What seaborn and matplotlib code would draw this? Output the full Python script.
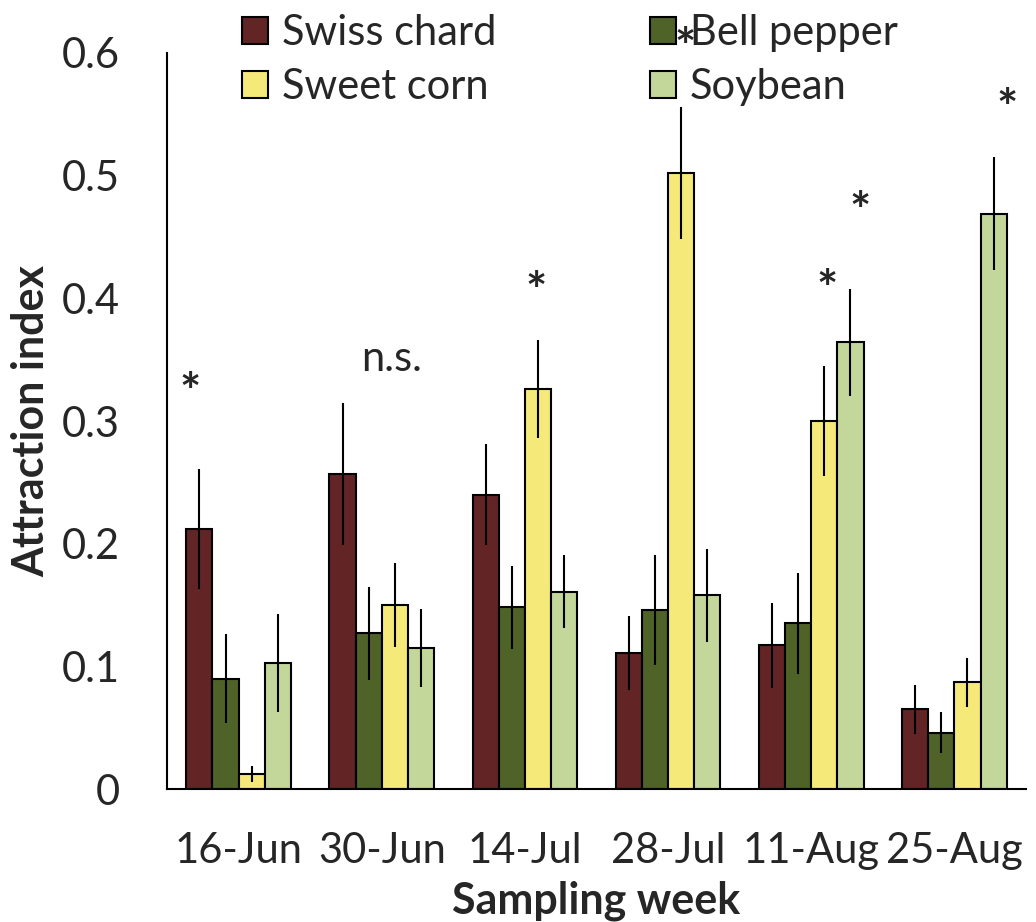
import numpy as np
import pandas as pd
import matplotlib
matplotlib.use("Agg")
import matplotlib.pyplot as plt
import seaborn as sns

# Veriler
weeks = ["16-Jun", "30-Jun", "14-Jul", "28-Jul", "11-Aug", "25-Aug"]
crops = ["Swiss chard", "Bell pepper", "Sweet corn", "Soybean"]
swiss_chard = [0.212, 0.257, 0.240, 0.111, 0.117, 0.065]
bell_pepper = [0.090, 0.127, 0.148, 0.146, 0.135, 0.046]
sweet_corn = [0.012, 0.150, 0.326, 0.502, 0.300, 0.087]
soybean = [0.103, 0.115, 0.161, 0.158, 0.364, 0.469]
swiss_err = [0.049, 0.058, 0.041, 0.030, 0.035, 0.020]
bell_err = [0.036, 0.038, 0.034, 0.045, 0.041, 0.017]
sweet_err = [0.0065, 0.034, 0.040, 0.054, 0.045, 0.020]
soy_err = [0.040, 0.032, 0.030, 0.038, 0.044, 0.046]
colors = ["#632426", "#4f6228", "#f5e97a", "#c4d79b"]

# Anlamlılık işaretleri (x: hafta konumu, y: taban çizgisi)
sig_labels = ["*", "n.s.", "*", "*", "*", "*", "*"]
sig_x = [-0.34, 1.07, 2.08, 3.12, 4.11, 4.34, 5.37]
sig_y = [0.310, 0.341, 0.392, 0.591, 0.394, 0.457, 0.541]

values = [swiss_chard, bell_pepper, sweet_corn, soybean]
errors = [swiss_err, bell_err, sweet_err, soy_err]
df = pd.DataFrame({
    "week": weeks * len(crops),
    "crop": np.repeat(crops, len(weeks)),
    "value": np.concatenate(values),
})

sns.set_style("white")
plt.rcParams["font.family"] = ["Lato", "DejaVu Sans"]

fig = plt.figure(figsize=(10.36, 9.22), dpi=100)
ax = fig.add_axes([167 / 1036, 1 - 789 / 922, 859 / 1036, 736 / 922])

sns.barplot(data=df, x="week", y="value", hue="crop", order=weeks,
            hue_order=crops, palette=colors, saturation=1, width=0.73,
            gap=0, edgecolor="black", linewidth=1.5, errorbar=None, ax=ax)

# Hata çubukları
for cont, err in zip(ax.containers, errors):
    xs = [b.get_x() + b.get_width() / 2 for b in cont]
    ys = [b.get_height() for b in cont]
    ax.errorbar(xs, ys, yerr=err, fmt="none", ecolor="black",
                elinewidth=1.5, capsize=0, zorder=5)

for lab, x, y in zip(sig_labels, sig_x, sig_y):
    if lab == "*":
        ax.text(x, y, lab, ha="center", va="baseline", fontsize=36,
                fontweight="bold", clip_on=False, zorder=6)
    else:
        ax.text(x, y, lab, ha="center", va="baseline", fontsize=30,
                clip_on=False, zorder=6)

ax.set_ylim(0, 0.6)
ax.set_xlim(-0.5, 5.5)
ax.set_yticks(np.arange(0, 0.61, 0.1))
ax.set_yticklabels(["0", "0.1", "0.2", "0.3", "0.4", "0.5", "0.6"])
ax.set_xticks(np.arange(-0.5, 5.6, 1))
ax.set_xticklabels([])
ax.set_xticks(range(len(weeks)), minor=True)
ax.set_xticklabels(weeks, minor=True)
ax.tick_params(axis="x", which="major", length=10, width=1.5,
               direction="out", color="black")
ax.tick_params(axis="x", which="minor", length=0, pad=31, labelsize=30)
ax.tick_params(axis="y", length=10, width=1.5, direction="out",
               color="black", pad=24, labelsize=30)
for s in ["top", "right"]:
    ax.spines[s].set_visible(False)
for s in ["left", "bottom"]:
    ax.spines[s].set_color("black")
    ax.spines[s].set_linewidth(1.5)
ax.set_xlabel("")
ax.set_ylabel("")

fig.text(596.5 / 1036, 1 - 913 / 922, "Sampling week", ha="center",
         va="baseline", fontsize=31, fontweight="bold")
fig.text(31 / 1036, 1 - 421 / 922, "Attraction index", ha="center",
         va="center", rotation=90, fontsize=31, fontweight="bold")

# Lejant: sütun sırası Swiss/Sweet, Bell/Soy
handles, labels = ax.get_legend_handles_labels()
order = [0, 2, 1, 3]
ax.get_legend().remove()
fig.legend([handles[i] for i in order], [labels[i] for i in order],
           loc="upper left", bbox_to_anchor=(242 / 1036, 1 - 14 / 922),
           ncol=2, frameon=False, fontsize=30, borderpad=0,
           borderaxespad=0, handlelength=0.62, handleheight=0.62,
           handletextpad=0.33, columnspacing=3.7, labelspacing=0.39)

plt.savefig("out.png", dpi=100)
plt.close()
